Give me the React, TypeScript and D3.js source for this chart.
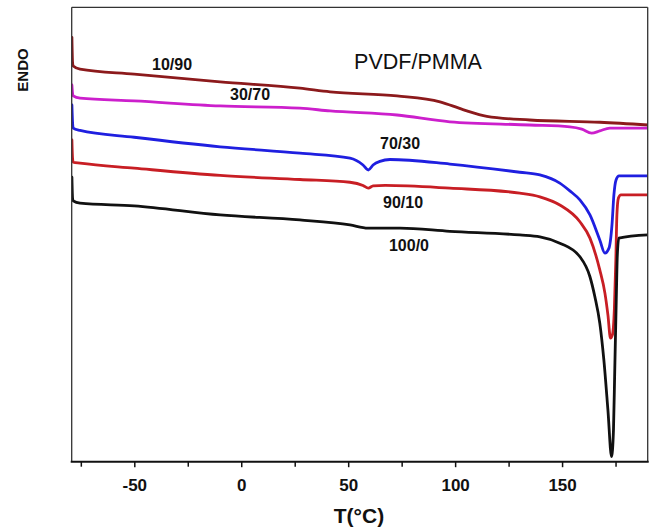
import React from "react";
import * as d3 from "d3";

// Temperature (°C) and heat flow (a.u.)
const t1090 = [-79.4, -79.1, -78.8, -75.6, -50.3, -10.1, 27.2, 41.3, 72.6, 92.7, 103.4, 114.6, 134.7, 167.5, 189.9];
const v1090 = [93.4, 87.9, 87.1, 86.4, 85.3, 83.6, 82.2, 81.4, 80.5, 79.2, 77.5, 76.0, 75.2, 74.7, 74.1];

const t3070 = [-79.4, -79.1, -78.8, -75.6, -50.3, -10.1, 27.2, 41.3, 72.6, 97.3, 134.7, 153.4, 159, 163.6, 167.4, 172.1, 189.9];
const v3070 = [82.9, 81.1, 80.5, 80.0, 79.4, 78.3, 77.8, 77.2, 76.3, 74.8, 74.1, 73.7, 73.2, 72.3, 72.8, 73.4, 73.4];

const t7030 = [-79.4, -79.1, -78.8, -75.6, -50.3, -10.1, 27.2, 50.6, 56.7, 59.2, 61.4, 64.6, 69.3, 97.3, 130, 139.4, 148.7, 153.4, 158.1, 162.8, 167.4, 169.8, 171.7, 173.1, 174, 175, 176.4, 189.9];
const v7030 = [78.5, 74.7, 73.4, 72.9, 71.4, 69.3, 67.9, 66.8, 65.3, 64.2, 65.3, 66.1, 66.5, 65.5, 63.7, 63.1, 61.3, 59.6, 57.6, 54.3, 48.8, 45.9, 47.0, 52.1, 58.7, 62.0, 62.9, 62.9];

const t9010 = [-79.4, -79.1, -78.8, -75.6, -50.3, -10.1, 27.2, 50.6, 56.7, 59.2, 61.4, 67.1, 97.3, 130, 139.4, 148.7, 158.1, 162.8, 167.4, 169.8, 171.2, 172.4, 173.3, 174.2, 174.9, 175.4, 176.1, 177.3, 189.9];
const v9010 = [70.8, 66.8, 65.9, 65.7, 64.6, 63.0, 62.1, 61.5, 60.8, 60.2, 60.7, 60.8, 60.2, 59.1, 58.3, 56.5, 52.8, 49.2, 42.2, 37.1, 32.3, 27.2, 27.9, 33.4, 44.4, 54.3, 58.0, 58.7, 58.7];

const t1000 = [-79.4, -79.1, -78.8, -75.6, -50.3, -10.1, 27.2, 50.6, 59.0, 74, 97.3, 130, 139.4, 148.7, 158.1, 162.8, 165.1, 167.4, 169.3, 171.2, 172.9, 173.8, 174.4, 175.1, 175.6, 176.3, 189.9];
const v1000 = [62.6, 58.0, 57.4, 56.9, 56.3, 54.3, 53.2, 52.1, 51.4, 51.4, 50.7, 49.9, 49.5, 48.1, 45.1, 40.7, 36.3, 30.5, 22.4, 11.4, 1.1, 7.0, 20.2, 35.6, 45.5, 49.2, 49.9];

const seriesNames = ["10/90", "30/70", "70/30", "90/10", "100/0"];
const seriesColors = ["#8c1a1c", "#cc1fcc", "#1f1fe0", "#c81e24", "#111111"];
const seriesT = [t1090, t3070, t7030, t9010, t1000];
const seriesV = [v1090, v3070, v7030, v9010, v1000];

// label anchor positions (T, value)
const labelT = [-32.6, 3.9, 74, 75.4, 78.2];
const labelV = [87.5, 80.9, 70.1, 57.1, 47.7];

const majorTicks = [-50, 0, 50, 100, 150];
const minorTicks = [-75, -25, 25, 75, 125, 175];
const xDomain = [-79.5, 189.8];
const yDomain = [0, 100];

const W = 659;
const H = 528;
const left = 71.7, right = 647.7, top = 7.3, bottom = 461.7;

export default function App() {
  const x = d3.scaleLinear().domain(xDomain).range([left, right]);
  const y = d3.scaleLinear().domain(yDomain).range([bottom, top]);
  const line = d3
    .line<[number, number]>()
    .x((d) => x(d[0]))
    .y((d) => y(d[1]))
    .curve(d3.curveMonotoneX);

  const font = "Liberation Sans, Arial, Helvetica, sans-serif";

  return (
    <svg
      width={W}
      height={H}
      style={{ position: "absolute", left: 0, top: 0, background: "#fff" }}
      fontFamily={font}
    >
      <rect x={0} y={0} width={W} height={H} fill="#fff" />
      <defs>
        <clipPath id="plot">
          <rect x={left} y={top} width={right - left} height={bottom - top} />
        </clipPath>
      </defs>
      <g clipPath="url(#plot)">
        {seriesNames.map((name, i) => {
          const pts = seriesT[i].map((t, j) => [t, seriesV[i][j]] as [number, number]);
          return (
            <path
              key={name}
              d={line(pts) || ""}
              fill="none"
              stroke={seriesColors[i]}
              strokeWidth={2.8}
              strokeLinejoin="round"
              strokeLinecap="round"
            />
          );
        })}
      </g>
      {/* frame */}
      <line x1={left} y1={top} x2={right} y2={top} stroke="#333" strokeWidth={1.3} />
      <line x1={left} y1={top} x2={left} y2={bottom} stroke="#333" strokeWidth={1.3} />
      <line x1={right} y1={top} x2={right} y2={bottom} stroke="#333" strokeWidth={1.3} />
      <line x1={left - 1} y1={bottom} x2={right + 1} y2={bottom} stroke="#111" strokeWidth={2} />
      {/* ticks */}
      {majorTicks.map((t) => (
        <g key={"M" + t}>
          <line x1={x(t)} x2={x(t)} y1={bottom} y2={bottom + 5.5} stroke="#111" strokeWidth={1.5} />
          <text x={x(t)} y={491} textAnchor="middle" fontSize={17} fontWeight="bold" fill="#111">
            {t}
          </text>
        </g>
      ))}
      {minorTicks.map((t) => (
        <line key={"m" + t} x1={x(t)} x2={x(t)} y1={bottom} y2={bottom + 5} stroke="#111" strokeWidth={1.5} />
      ))}
      <text x={359} y={523} textAnchor="middle" fontSize={21} fontWeight="bold" fill="#111">
        T(°C)
      </text>
      <text
        transform="translate(28,70) rotate(-90)"
        textAnchor="middle"
        fontSize={15}
        fontWeight="bold"
        fill="#111"
      >
        ENDO
      </text>
      {seriesNames.map((name, i) => (
        <text
          key={"l" + name}
          x={x(labelT[i])}
          y={y(labelV[i])}
          dy="0.36em"
          textAnchor="middle"
          fontSize={16}
          fontWeight="bold"
          fill="#111"
        >
          {name}
        </text>
      ))}
      <text x={x(82.4)} y={y(88.2)} dy="0.36em" textAnchor="middle" fontSize={21.5} fill="#111">
        PVDF/PMMA
      </text>
    </svg>
  );
}
